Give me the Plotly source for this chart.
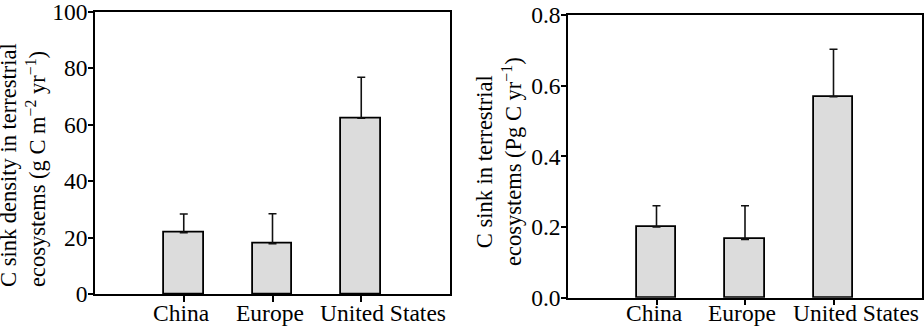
import plotly.graph_objects as go

# Regions and their terrestrial carbon sink estimates
regions = ["China", "Europe", "United States"]
positions = [0, 1, 2]

# Sink density (g C m-2 yr-1) with upper error
density = [21.7, 17.8, 62.2]
density_err = [6.6, 10.6, 14.5]

# Total sink (Pg C yr-1) with upper error
total = [0.200, 0.165, 0.569]
total_err = [0.060, 0.095, 0.134]

W, H = 924, 329
FONT = "Liberation Serif"
BAR_FILL = "#dcdcdc"
LABEL_SIZE = 23.5

# horizontal nudges (px) so the long region name clears its neighbour
label_nudge = [-2, -3, 22]


def px_x(v):
    return v / W


def px_y(v):
    return (H - v) / H


def bar_trace(values, errors, xa, ya):
    return go.Bar(
        x=positions,
        y=values,
        width=0.45,
        marker=dict(color=BAR_FILL, line=dict(color="black", width=1.8)),
        error_y=dict(
            type="data",
            symmetric=False,
            array=errors,
            arrayminus=[0] * len(errors),
            color="#111111",
            thickness=1.6,
            width=4,
        ),
        xaxis=xa,
        yaxis=ya,
        showlegend=False,
    )


fig = go.Figure()
fig.add_trace(bar_trace(density, density_err, "x", "y"))
fig.add_trace(bar_trace(total, total_err, "x2", "y2"))

axis_common = dict(
    showline=True,
    linecolor="black",
    linewidth=1.5,
    mirror=True,
    showgrid=False,
    zeroline=False,
    automargin=False,
    ticklabeloverflow="allow",
    ticks="outside",
    ticklen=5,
    tickwidth=1.5,
    tickcolor="black",
    tickfont=dict(family=FONT, size=LABEL_SIZE, color="black"),
)

xcat = dict(
    axis_common,
    range=[-1.0, 3.0],
    tickmode="array",
    tickvals=positions,
    showticklabels=False,
    ticklen=6,
)

yval = dict(axis_common, ticklabelstandoff=-4)

fig.update_layout(
    width=W,
    height=H,
    margin=dict(l=0, r=0, t=0, b=0),
    paper_bgcolor="white",
    plot_bgcolor="white",
    bargap=0,
    font=dict(family=FONT, color="black"),
    xaxis=dict(xcat, domain=[px_x(95), px_x(450)], anchor="y"),
    yaxis=dict(
        yval,
        domain=[px_y(294), px_y(11.5)],
        range=[0, 100],
        tickmode="array",
        tickvals=[0, 20, 40, 60, 80, 100],
        anchor="x",
    ),
    xaxis2=dict(xcat, domain=[px_x(568), px_x(922)], anchor="y2"),
    yaxis2=dict(
        yval,
        domain=[px_y(297.7), px_y(15)],
        range=[0, 0.8],
        tickmode="array",
        tickvals=[0, 0.2, 0.4, 0.6, 0.8],
        tickformat=".1f",
        anchor="x2",
    ),
)

# Region names beneath each panel's bars
for xa in ("x", "x2"):
    for pos, name, dx in zip(positions, regions, label_nudge):
        fig.add_annotation(
            text=name,
            xref=xa, yref="paper",
            x=pos, y=px_y(298),
            xanchor="center", yanchor="top",
            xshift=dx,
            showarrow=False,
            font=dict(family=FONT, size=LABEL_SIZE, color="black"),
        )

fig.add_annotation(
    text="C sink density in terrestrial<br>ecosystems (g C m<sup>−2</sup> yr<sup>−1</sup>)",
    xref="paper", yref="paper",
    x=px_x(23), y=px_y(165),
    xanchor="center", yanchor="middle",
    textangle=-90,
    align="left",
    showarrow=False,
    font=dict(family=FONT, size=22.5, color="black"),
)

fig.add_annotation(
    text="C sink in terrestrial<br>ecosystems (Pg C yr<sup>−1</sup>)",
    xref="paper", yref="paper",
    x=px_x(498.5), y=px_y(161.5),
    xanchor="center", yanchor="middle",
    textangle=-90,
    align="center",
    showarrow=False,
    font=dict(family=FONT, size=22.5, color="black"),
)

fig.write_html("out.html")
